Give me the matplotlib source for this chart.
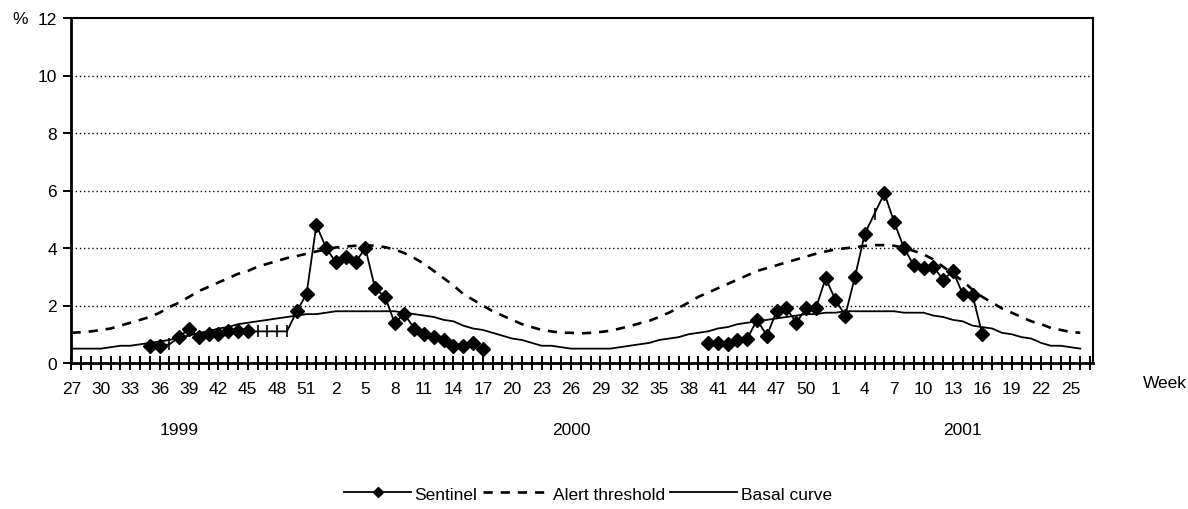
import numpy as np
import matplotlib
matplotlib.use("Agg")
import matplotlib.pyplot as plt
import matplotlib.transforms as mtransforms
from matplotlib.lines import Line2D

plt.rcParams['font.family'] = ['Liberation Sans', 'DejaVu Sans']

# week numbers along the axis: 1999 wk27 .. 2001 wk26
weeks = list(range(27, 53)) + list(range(1, 53)) + list(range(1, 27))

# basal curve, season 1999/2000 and 2000/2001 (wk27 .. wk26)
basal_9900 = [0.5, 0.5, 0.5, 0.5, 0.55, 0.6, 0.6, 0.65, 0.7, 0.75,
              0.8, 0.9, 0.95, 1.05, 1.1, 1.2, 1.25, 1.35, 1.4, 1.45,
              1.5, 1.55, 1.6, 1.65, 1.7, 1.7, 1.75, 1.8, 1.8, 1.8,
              1.8, 1.8, 1.8, 1.8, 1.75, 1.7, 1.65, 1.6, 1.5, 1.45,
              1.3, 1.2, 1.15, 1.05, 0.95, 0.85, 0.8, 0.7, 0.6, 0.6,
              0.55, 0.5]
basal_0001 = [0.5, 0.5, 0.5, 0.5, 0.55, 0.6, 0.65, 0.7, 0.8, 0.85,
              0.9, 1.0, 1.05, 1.1, 1.2, 1.25, 1.35, 1.4, 1.45, 1.5,
              1.55, 1.6, 1.65, 1.7, 1.7, 1.75, 1.75, 1.8, 1.8, 1.8,
              1.8, 1.8, 1.8, 1.75, 1.75, 1.75, 1.65, 1.6, 1.5, 1.45,
              1.3, 1.25, 1.2, 1.05, 1.0, 0.9, 0.85, 0.7, 0.6, 0.6,
              0.55, 0.5]

# alert threshold
alert_9900 = [1.05, 1.07, 1.1, 1.15, 1.2, 1.3, 1.4, 1.5, 1.6, 1.75,
              1.95, 2.1, 2.3, 2.5, 2.65, 2.8, 2.95, 3.1, 3.2, 3.35,
              3.45, 3.55, 3.65, 3.72, 3.8, 3.88, 3.95, 4.02, 4.05, 4.08,
              4.1, 4.08, 4.03, 3.95, 3.82, 3.65, 3.45, 3.2, 2.95, 2.7,
              2.4, 2.2, 2.0, 1.8, 1.65, 1.5, 1.35, 1.25, 1.15, 1.1,
              1.05, 1.05]
alert_0001 = [1.03, 1.05, 1.08, 1.12, 1.2, 1.28, 1.38, 1.47, 1.6, 1.75,
              1.92, 2.1, 2.3, 2.45, 2.6, 2.75, 2.9, 3.05, 3.2, 3.3,
              3.4, 3.5, 3.6, 3.7, 3.8, 3.88, 3.95, 3.99, 4.03, 4.07,
              4.1, 4.1, 4.08, 4.0, 3.9, 3.78, 3.6, 3.35, 3.1, 2.85,
              2.55, 2.3, 2.1, 1.9, 1.75, 1.6, 1.45, 1.35, 1.22, 1.15,
              1.08, 1.05]

# sentinel rates: 1999 wk35 .. 2000 wk17, 2000 wk40 .. 2001 wk16
sentinel_9900 = [0.6, 0.6, 0.65, 0.9, 1.2, 0.9, 1.0, 1.0, 1.1, 1.1,
                 1.1, 1.1, 1.1, 1.1, 1.1, 1.8, 2.4, 4.8, 4.0, 3.5,
                 3.7, 3.5, 4.0, 2.6, 2.3, 1.4, 1.7, 1.2, 1.0, 0.9,
                 0.8, 0.6, 0.6, 0.7, 0.5]
sentinel_0001 = [0.7, 0.7, 0.65, 0.8, 0.85, 1.5, 0.95, 1.8, 1.9, 1.4,
                 1.9, 1.9, 2.95, 2.2, 1.65, 3.0, 4.5, 5.2, 5.9, 4.9,
                 4.0, 3.4, 3.3, 3.35, 2.9, 3.2, 2.4, 2.35, 1.0]
start_9900 = 8     # position of 1999 wk35
start_0001 = 65    # position of 2000 wk40
# points drawn as plain ticks instead of diamonds (positions on the axis)
tick_points = [10, 19, 20, 21, 22, 82]

years = ["1999", "2000", "2001"]
year_pos = [11, 51, 91]

FS = 12.5

x = np.arange(len(weeks))
basal = np.array(basal_9900 + basal_0001)
alert = np.array(alert_9900 + alert_0001)

fig = plt.figure(figsize=(11.88, 5.10), dpi=100)
ax = fig.add_axes([71 / 1188, 1 - 364 / 510, (1093 - 71) / 1188, (364 - 19) / 510])

ax.plot(x, basal, color='black', lw=1.3, solid_joinstyle='miter')
ax.plot(x, alert, color='black', lw=1.9, linestyle=(0, (3.5, 3)))

for start, vals in [(start_9900, sentinel_9900), (start_0001, sentinel_0001)]:
    xs = np.arange(start, start + len(vals))
    ys = np.array(vals)
    ax.plot(xs, ys, color='black', lw=1.3)
    diamond = np.array([i not in tick_points for i in xs])
    ax.plot(xs[diamond], ys[diamond], linestyle='none', marker='D',
            ms=7, color='black')
    ax.plot(xs[~diamond], ys[~diamond], linestyle='none', marker='|',
            ms=8.5, mew=1.2, color='black')

ax.set_xlim(-0.05, 104.3)
ax.set_ylim(0, 12)
ax.set_yticks(range(0, 13, 2))
ax.set_xticks(np.arange(0, 105))
ax.set_xticklabels([str(weeks[i]) if (i < len(weeks) and i % 3 == 0) else ''
                    for i in range(105)])
ax.tick_params(axis='x', direction='inout', length=10, width=1.4,
               labelsize=FS, pad=8)
ax.tick_params(axis='y', direction='out', length=6, width=1.4,
               labelsize=FS, pad=4)

for y in range(2, 12, 2):
    ax.axhline(y, color='black', lw=1.0, linestyle=(0, (1, 2)), zorder=0)

for side in ['left', 'bottom']:
    ax.spines[side].set_linewidth(2.0)
for side in ['top', 'right']:
    ax.spines[side].set_linewidth(1.5)

fig.text(20 / 1188, 1 - 20 / 510, "%", fontsize=FS, ha='center', va='center')
fig.text(1165 / 1188, 1 - 384 / 510, "Week", fontsize=FS, ha='center', va='center')

trans = mtransforms.blended_transform_factory(ax.transData, fig.transFigure)
for yr, pos in zip(years, year_pos):
    ax.text(pos, 1 - 431 / 510, yr, transform=trans, fontsize=FS,
            ha='center', va='center')

handles = [
    Line2D([], [], color='black', lw=1.3, marker='D', ms=5),
    Line2D([], [], color='black', lw=1.9, linestyle=(0, (3.5, 3))),
    Line2D([], [], color='black', lw=1.3),
]
fig.legend(handles, ["Sentinel", "Alert threshold", "Basal curve"],
           loc='center', bbox_to_anchor=(588 / 1188, 1 - 495 / 510),
           ncol=3, frameon=False, fontsize=FS, handlelength=3.85,
           handletextpad=0.2, columnspacing=0.3)

fig.savefig("out.png", dpi=100)
